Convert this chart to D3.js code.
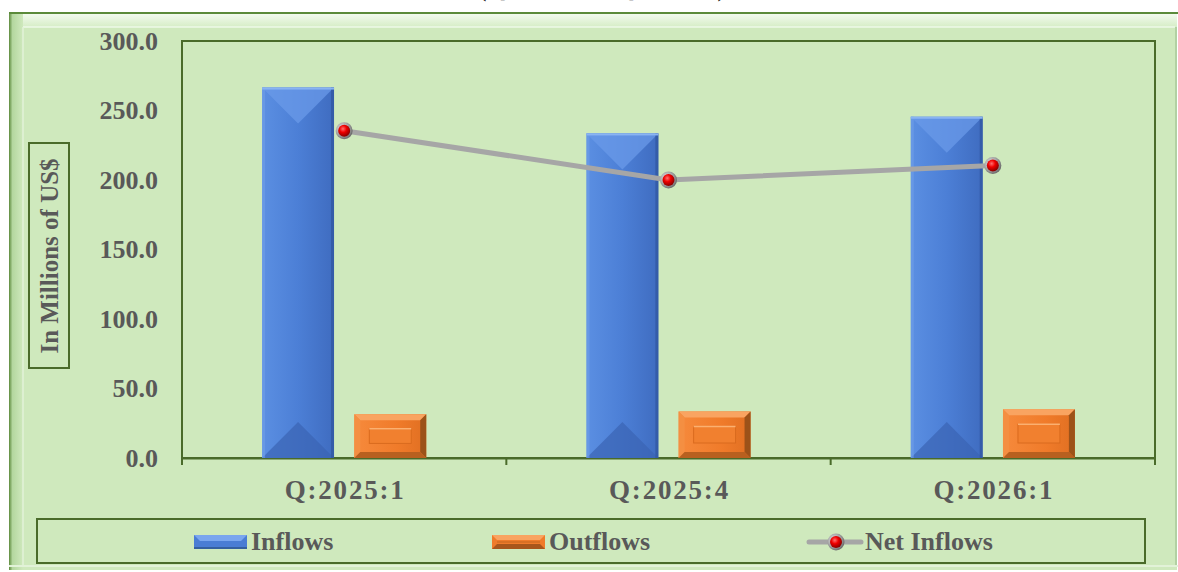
<!DOCTYPE html>
<html>
<head>
<meta charset="utf-8">
<script src="https://cdn.jsdelivr.net/npm/d3@7"></script>
<style>
  html, body { margin: 0; padding: 0; background: #fff; }
  svg { display: block; }
  text { font-family: "Liberation Serif", "Times New Roman", serif; font-weight: bold; fill: #595959; }
</style>
</head>
<body>
<svg id="chart"></svg>
<script>
// chart values
var categories = ["Q:2025:1", "Q:2025:4", "Q:2026:1"];
var inflows = [266.5, 233.5, 245.5];
var outflows = [31.5, 33.5, 35.0];
var netInflows = [235.5, 200.0, 210.5];
var yTicks = [0, 50, 100, 150, 200, 250, 300];
var seriesNames = ["Inflows", "Outflows", "Net Inflows"];

var W = 1178, H = 572;
var margin = {top: 41, right: 23, bottom: 114, left: 182},
    width = W - margin.left - margin.right,
    height = H - margin.top - margin.bottom;

var svg = d3.select("#chart").attr("width", W).attr("height", H);
var defs = svg.append("defs");

// gradients
function linGrad(id, x2, y2, stops) {
  var g = defs.append("linearGradient").attr("id", id)
    .attr("x1", 0).attr("y1", 0).attr("x2", x2).attr("y2", y2);
  stops.forEach(function(s) { g.append("stop").attr("offset", s[0]).attr("stop-color", s[1]); });
}
linGrad("blueBody", 1, 0, [[0, "#5b8fe2"], [0.5, "#4c7fd6"], [1, "#3f6cc0"]]);
linGrad("orangeBody", 1, 0, [[0, "#f68a3c"], [0.6, "#f07b2a"], [1, "#e06f22"]]);
linGrad("leftFrame", 1, 0, [[0, "#5d8a3c"], [0.25, "#b4d79f"], [1, "#cfe9bd"]]);
linGrad("topFrame", 0, 1, [[0, "#f2faee"], [1, "#d6edc6"]]);

var rg = defs.append("radialGradient").attr("id", "redBall").attr("cx", "40%").attr("cy", "35%").attr("r", "65%");
rg.append("stop").attr("offset", 0).attr("stop-color", "#ff7070");
rg.append("stop").attr("offset", 0.45).attr("stop-color", "#f00000");
rg.append("stop").attr("offset", 1).attr("stop-color", "#8a0000");
var gr = defs.append("radialGradient").attr("id", "grayRing").attr("cx", "40%").attr("cy", "40%").attr("r", "60%");
gr.append("stop").attr("offset", 0).attr("stop-color", "#f4f4f4");
gr.append("stop").attr("offset", 0.7).attr("stop-color", "#a0a0a0");
gr.append("stop").attr("offset", 1).attr("stop-color", "#6e6e6e");

// outer chart frame
svg.append("rect").attr("x", 9).attr("y", 13).attr("width", W - 10).attr("height", H - 15)
  .attr("fill", "#cfe9bd");
svg.append("rect").attr("x", 9).attr("y", 14).attr("width", W - 10).attr("height", 13)
  .attr("fill", "url(#topFrame)");
svg.append("rect").attr("x", 9).attr("y", 13).attr("width", 14).attr("height", H - 15)
  .attr("fill", "url(#leftFrame)");
svg.append("line").attr("x1", 9).attr("x2", W).attr("y1", 13).attr("y2", 13)
  .attr("stroke", "#5b8a3a").attr("stroke-width", 2);
svg.append("line").attr("x1", 23).attr("x2", W - 3).attr("y1", 27).attr("y2", 27)
  .attr("stroke", "#eef8e8").attr("stroke-width", 1.5);
svg.append("line").attr("x1", 23).attr("x2", 23).attr("y1", 27).attr("y2", H - 5)
  .attr("stroke", "#e2f2d8").attr("stroke-width", 1.5);
svg.append("line").attr("x1", W - 2).attr("x2", W - 2).attr("y1", 27).attr("y2", H - 5)
  .attr("stroke", "#a9c99a").attr("stroke-width", 1.5);
svg.append("line").attr("x1", 9).attr("x2", W).attr("y1", H - 6).attr("y2", H - 6)
  .attr("stroke", "#e2f2d8").attr("stroke-width", 2);

// title (mostly above the visible area)
svg.append("text").attr("x", 602).attr("y", -4).attr("text-anchor", "middle")
  .style("font-size", "26px").style("fill", "#222")
  .text("(Q:2025:1 \u2013 Q:2026:1)");

var g = svg.append("g").attr("transform", "translate(" + margin.left + "," + margin.top + ")");

var x = d3.scaleBand().domain(categories).range([0, width]).paddingInner(0.494).paddingOuter(0.247);
var x1 = d3.scaleBand().domain(["Inflows", "Outflows"]).range([0, x.bandwidth()]).paddingInner(0.22);
var y = d3.scaleLinear().domain([0, 300]).range([height, 0]);

// plot border
g.append("rect").attr("width", width).attr("height", height)
  .attr("fill", "none").attr("stroke", "#4a6b2a").attr("stroke-width", 2);

// y axis
var yAxis = g.append("g").call(d3.axisLeft(y).tickValues(yTicks).tickFormat(d3.format(".1f")).tickSize(0).tickPadding(24));
yAxis.select(".domain").remove();
yAxis.selectAll("text").style("font-size", "26px").style("font-family", null).attr("fill", null);

// x axis
var xAxis = g.append("g").attr("transform", "translate(0," + height + ")")
  .call(d3.axisBottom(x).tickSize(0).tickPadding(22));
xAxis.select(".domain").attr("stroke", "#4a6b2a").attr("stroke-width", 2);
xAxis.selectAll("text").style("font-size", "27px").style("letter-spacing", "1.8px")
  .attr("dx", "1px").style("font-family", null).attr("fill", null);
var gap = (x.step() - x.bandwidth()) / 2;
var bounds = categories.map(function(c) { return x(c) - gap; }).concat([x(categories[categories.length - 1]) + x.bandwidth() + gap]);
g.selectAll(".xb").data(bounds).enter().append("line")
  .attr("x1", function(d) { return d; }).attr("x2", function(d) { return d; })
  .attr("y1", height).attr("y2", height + 7)
  .attr("stroke", "#4a6b2a").attr("stroke-width", 2);

// bevelled blue bar
function blueBar(sel, bx, by, bw, bh) {
  var d = Math.min(bw / 2, bh / 2);
  sel.append("rect").attr("x", bx).attr("y", by).attr("width", bw).attr("height", bh)
    .attr("fill", "url(#blueBody)");
  sel.append("polygon").attr("points", [[bx, by], [bx + bw, by], [bx + bw / 2, by + d]].join(" "))
    .attr("fill", "#6a9ae8").attr("opacity", 0.75);
  sel.append("polygon").attr("points", [[bx, by + bh], [bx + bw, by + bh], [bx + bw / 2, by + bh - d]].join(" "))
    .attr("fill", "#3a64b4").attr("opacity", 0.7);
  sel.append("rect").attr("x", bx).attr("y", by).attr("width", 3).attr("height", bh).attr("fill", "#6f9fe8").attr("opacity", 0.6);
  sel.append("rect").attr("x", bx + bw - 3).attr("y", by).attr("width", 3).attr("height", bh).attr("fill", "#30569e").attr("opacity", 0.7);
  sel.append("rect").attr("x", bx).attr("y", by).attr("width", bw).attr("height", 2).attr("fill", "#8ab4f2");
}

// bevelled orange bar
function orangeBar(sel, bx, by, bw, bh) {
  var e = Math.min(6, bh / 4, bw / 4);
  sel.append("rect").attr("x", bx).attr("y", by).attr("width", bw).attr("height", bh)
    .attr("fill", "url(#orangeBody)");
  sel.append("polygon").attr("points", [[bx, by], [bx + bw, by], [bx + bw - e, by + e], [bx + e, by + e]].join(" ")).attr("fill", "#f9a461");
  sel.append("polygon").attr("points", [[bx, by], [bx + e, by + e], [bx + e, by + bh - e], [bx, by + bh]].join(" ")).attr("fill", "#f48f42");
  sel.append("polygon").attr("points", [[bx + bw, by], [bx + bw - e, by + e], [bx + bw - e, by + bh - e], [bx + bw, by + bh]].join(" ")).attr("fill", "#9c5219");
  sel.append("polygon").attr("points", [[bx, by + bh], [bx + e, by + bh - e], [bx + bw - e, by + bh - e], [bx + bw, by + bh]].join(" ")).attr("fill", "#b8601f");
  var ix = Math.min(15, bw / 4), iy = Math.min(15, bh / 3);
  if (bh > 20) {
    sel.append("rect").attr("x", bx + ix).attr("y", by + iy).attr("width", bw - 2 * ix).attr("height", bh - 2 * iy)
      .attr("fill", "#f1802f").attr("stroke", "#d96a1e").attr("stroke-width", 1);
    sel.append("line").attr("x1", bx + ix).attr("x2", bx + bw - ix).attr("y1", by + iy).attr("y2", by + iy)
      .attr("stroke", "#fbb070").attr("stroke-width", 1.5);
  }
}

var groups = g.selectAll(".grp").data(categories).enter().append("g")
  .attr("transform", function(d) { return "translate(" + x(d) + ",0)"; });
groups.each(function(c, i) {
  var s = d3.select(this);
  blueBar(s, x1("Inflows"), y(inflows[i]), x1.bandwidth(), height - y(inflows[i]));
  orangeBar(s, x1("Outflows"), y(outflows[i]), x1.bandwidth(), height - y(outflows[i]));
});

// net inflows line
var line = d3.line()
  .x(function(d, i) { return x(categories[i]) + x.bandwidth() / 2; })
  .y(function(d) { return y(d); });
g.append("path").datum(netInflows).attr("d", line)
  .attr("fill", "none").attr("stroke", "#a6a6a6").attr("stroke-width", 5);

function marker(sel, cx, cy) {
  sel.append("circle").attr("cx", cx).attr("cy", cy).attr("r", 8.5).attr("fill", "url(#grayRing)");
  sel.append("circle").attr("cx", cx).attr("cy", cy).attr("r", 6).attr("fill", "url(#redBall)");
}
netInflows.forEach(function(v, i) {
  marker(g, x(categories[i]) + x.bandwidth() / 2, y(v));
});

// y axis title
svg.append("rect").attr("x", 29).attr("y", 143).attr("width", 40).attr("height", 225)
  .attr("fill", "none").attr("stroke", "#4a6b2a").attr("stroke-width", 2);
svg.append("text").attr("transform", "translate(58,256) rotate(-90)")
  .attr("text-anchor", "middle").style("font-size", "25px")
  .text("In Millions of US$");

// legend
svg.append("rect").attr("x", 37).attr("y", 519).attr("width", 1108).attr("height", 44)
  .attr("fill", "none").attr("stroke", "#4a6b2a").attr("stroke-width", 2);
var lg = svg.append("g");
var sw1 = lg.append("g");
sw1.append("rect").attr("x", 194).attr("y", 535).attr("width", 53).attr("height", 14).attr("fill", "#4a7dd4");
sw1.append("polygon").attr("points", "194,535 247,535 241,541 200,541").attr("fill", "#7aa6ee");
sw1.append("rect").attr("x", 194).attr("y", 547).attr("width", 53).attr("height", 2).attr("fill", "#35609f");
lg.append("text").attr("x", 251).attr("y", 550).style("font-size", "26px").text(seriesNames[0]);

var sw2 = lg.append("g");
sw2.append("rect").attr("x", 492).attr("y", 535).attr("width", 53).attr("height", 14).attr("fill", "#f07b2a");
sw2.append("polygon").attr("points", "492,535 545,535 540,540 497,540").attr("fill", "#f9a461");
sw2.append("polygon").attr("points", "492,549 545,549 540,544 497,544").attr("fill", "#a9561b");
sw2.append("line").attr("x1", 497).attr("x2", 540).attr("y1", 542).attr("y2", 542).attr("stroke", "#c4661f");
lg.append("text").attr("x", 549).attr("y", 550).style("font-size", "26px").text(seriesNames[1]);

lg.append("line").attr("x1", 809).attr("x2", 861).attr("y1", 542).attr("y2", 542)
  .attr("stroke", "#a6a6a6").attr("stroke-width", 5).attr("stroke-linecap", "round");
marker(lg, 836, 542);
lg.append("text").attr("x", 865).attr("y", 550).style("font-size", "26px").text(seriesNames[2]);
</script>
</body>
</html>
